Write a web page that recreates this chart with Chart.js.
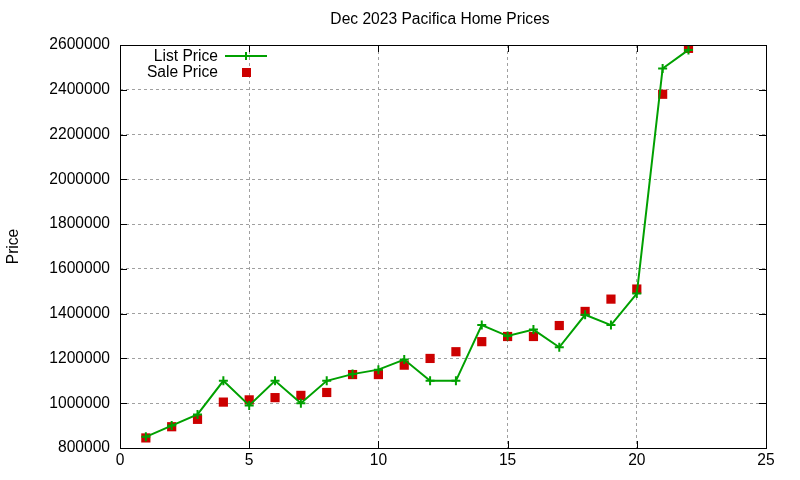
<!DOCTYPE html>
<html>
<head>
<meta charset="utf-8">
<script src="https://cdn.jsdelivr.net/npm/chart.js@4/dist/chart.umd.min.js"></script>
<style>
  html, body { margin: 0; padding: 0; background: #fff; }
  #wrap { width: 800px; height: 480px; }
</style>
</head>
<body>
<div id="wrap"><canvas id="c" width="800" height="480"></canvas></div>
<script>
const chartTitle = 'Dec 2023 Pacifica Home Prices';
const yAxisTitle = 'Price';
const days = [1,2,3,4,5,6,7,8,9,10,11,12,13,14,15,16,17,18,19,20,21,22];
const listPrice = [850000,900000,950000,1100000,990000,1100000,1000000,1100000,1130000,1150000,1195000,1100000,1100000,1349000,1300000,1329000,1250000,1395000,1349000,1490000,2495000,2578000];
const salePrice = [845000,895000,928000,1005000,1015000,1025000,1035000,1048000,1128000,1128000,1170000,1200000,1230000,1275000,1298000,1298000,1347000,1410000,1465000,1510000,2380000,2585000];
const seriesNames = ['List Price', 'Sale Price'];

const FONT = "'Liberation Sans', Arial, sans-serif";
const FSIZE = 15.6;

const framePlugin = {
  id: 'frame',
  afterDraw(chart) {
    const ctx = chart.ctx;
    const a = chart.chartArea;
    const xs = chart.scales.x, ys = chart.scales.y;
    ctx.save();
    ctx.strokeStyle = '#000';
    ctx.lineWidth = 1;
    // inward ticks
    ctx.beginPath();
    ys.ticks.forEach(t => {
      const p = Math.round(ys.getPixelForValue(t.value)) + 0.5;
      ctx.moveTo(a.left, p); ctx.lineTo(a.left + 7, p);
      ctx.moveTo(a.right, p); ctx.lineTo(a.right - 7, p);
    });
    xs.ticks.forEach(t => {
      const p = Math.round(xs.getPixelForValue(t.value)) + 0.5;
      ctx.moveTo(p, a.bottom); ctx.lineTo(p, a.bottom - 7);
      ctx.moveTo(p, a.top); ctx.lineTo(p, a.top + 7);
    });
    ctx.stroke();
    // border box
    ctx.strokeRect(Math.round(a.left) + 0.5, Math.round(a.top) + 0.5, Math.round(a.right - a.left), Math.round(a.bottom - a.top));
    // title
    ctx.fillStyle = '#000';
    ctx.font = FSIZE + 'px ' + FONT;
    ctx.textAlign = 'center';
    ctx.textBaseline = 'middle';
    ctx.fillText(chartTitle, (a.left + a.right) / 2 - 3, 20);
    // legend
    const textRight = 218;
    chart.data.datasets.forEach((ds, i) => {
      const y = 56 + i * 16;
      ctx.fillStyle = '#000';
      ctx.textAlign = 'right';
      ctx.fillText(ds.label, textRight, y + 1);
      const sx = 246;
      if (ds.showLine !== false) {
        ctx.strokeStyle = ds.borderColor;
        ctx.lineWidth = 2;
        ctx.beginPath();
        ctx.moveTo(225, y); ctx.lineTo(267, y);
        ctx.moveTo(sx, y - 4); ctx.lineTo(sx, y + 4);
        ctx.stroke();
      } else {
        ctx.fillStyle = ds.backgroundColor;
        ctx.fillRect(sx - 4, y - 4, 9, 9);
      }
    });
    ctx.restore();
  }
};

new Chart(document.getElementById('c'), {
  type: 'line',
  data: {
    datasets: [
      {
        label: seriesNames[0],
        data: days.map((d, i) => ({ x: d, y: listPrice[i] })),
        borderColor: '#00a000',
        backgroundColor: '#00a000',
        borderWidth: 2,
        tension: 0,
        pointStyle: 'cross',
        pointRadius: 4.5,
        pointBorderWidth: 2,
        pointHoverRadius: 4.5,
        fill: false
      },
      {
        label: seriesNames[1],
        data: days.map((d, i) => ({ x: d, y: salePrice[i] })),
        showLine: false,
        borderColor: '#cc0000',
        backgroundColor: '#cc0000',
        pointStyle: 'rect',
        pointRadius: 6.5,
        pointBorderWidth: 0,
        pointHoverRadius: 6.5
      }
    ]
  },
  options: {
    responsive: false,
    animation: false,
    devicePixelRatio: 1,
    layout: { padding: { left: 0, right: 34, top: 45, bottom: 0 } },
    plugins: {
      legend: { display: false },
      title: { display: false },
      tooltip: { enabled: false }
    },
    scales: {
      x: {
        type: 'linear',
        min: 0, max: 25,
        ticks: { stepSize: 5, color: '#000', font: { family: FONT, size: FSIZE }, padding: 3, maxRotation: 0 },
        grid: { color: '#a0a0a0', lineWidth: 1, drawTicks: false },
        border: { display: false, dash: [3, 3] },
        afterFit(s) { s.height = 32; }
      },
      y: {
        min: 800000, max: 2600000,
        ticks: { stepSize: 200000, color: '#000', font: { family: FONT, size: FSIZE }, padding: 10,
                 callback: v => String(v) },
        grid: { color: '#a0a0a0', lineWidth: 1, drawTicks: false },
        border: { display: false, dash: [3, 3] },
        title: { display: true, text: yAxisTitle, color: '#000', font: { family: FONT, size: FSIZE }, padding: { top: 4, bottom: 10 } },
        afterFit(s) { s.width = 120; }
      }
    }
  },
  plugins: [framePlugin]
});
</script>
</body>
</html>
